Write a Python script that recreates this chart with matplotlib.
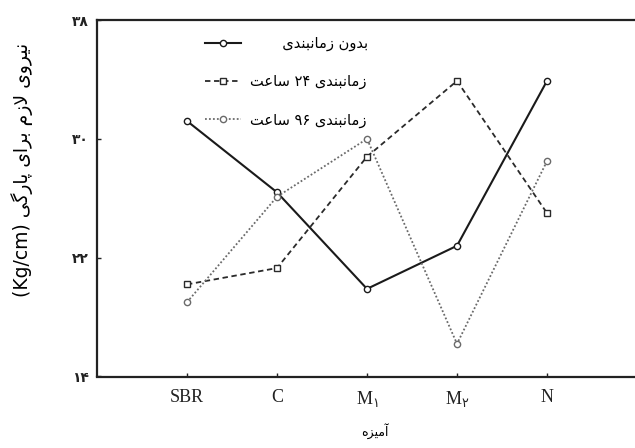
import numpy as np
import matplotlib
matplotlib.use("Agg")
import matplotlib.pyplot as plt

# ===== DATA =====
mixes = ["SBR", "C", "M1", "M2", "N"]
no_aging = [31.2, 26.4, 19.9, 22.8, 33.9]
aging_24h = [20.2, 21.3, 28.8, 33.9, 25.0]
aging_96h = [19.0, 26.1, 30.0, 16.2, 28.5]
y_ticks = [14, 22, 30, 38]

# ===== minimal Persian shaping (matplotlib draws LTR, no joining) =====
# char -> (isolated, final, initial, medial)
FORMS = {
    "ا": ("\uFE8D", "\uFE8E", None, None),
    "آ": ("\uFE81", "\uFE82", None, None),
    "ب": ("\uFE8F", "\uFE90", "\uFE91", "\uFE92"),
    "پ": ("\uFB56", "\uFB57", "\uFB58", "\uFB59"),
    "ت": ("\uFE95", "\uFE96", "\uFE97", "\uFE98"),
    "د": ("\uFEA9", "\uFEAA", None, None),
    "ر": ("\uFEAD", "\uFEAE", None, None),
    "ز": ("\uFEAF", "\uFEB0", None, None),
    "س": ("\uFEB1", "\uFEB2", "\uFEB3", "\uFEB4"),
    "ع": ("\uFEC9", "\uFECA", "\uFECB", "\uFECC"),
    "گ": ("\uFB92", "\uFB93", "\uFB94", "\uFB95"),
    "ل": ("\uFEDD", "\uFEDE", "\uFEDF", "\uFEE0"),
    "م": ("\uFEE1", "\uFEE2", "\uFEE3", "\uFEE4"),
    "ن": ("\uFEE5", "\uFEE6", "\uFEE7", "\uFEE8"),
    "ه": ("\uFEE9", "\uFEEA", "\uFEEB", "\uFEEC"),
    "و": ("\uFEED", "\uFEEE", None, None),
    "ی": ("\uFBFC", "\uFBFD", "\uFBFE", "\uFBFF"),
    "LA": ("\uFEFB", "\uFEFC", None, None),
}
FA_DIGITS = "۰۱۲۳۴۵۶۷۸۹"


def shape_word(w):
    if all(c in FA_DIGITS for c in w):
        return w
    toks = []
    i = 0
    while i < len(w):
        if w[i] == "ل" and i + 1 < len(w) and w[i + 1] == "ا":
            toks.append("LA"); i += 2
        else:
            toks.append(w[i]); i += 1
    out = []
    for k, c in enumerate(toks):
        if c not in FORMS:
            out.append(c); continue
        jp = k > 0 and toks[k - 1] in FORMS and FORMS[toks[k - 1]][2] is not None
        jn = FORMS[c][2] is not None and k + 1 < len(toks) and toks[k + 1] in FORMS
        f = FORMS[c]
        out.append(f[3] if jp and jn else f[1] if jp else f[2] if jn else f[0])
    return "".join(out[::-1])


def rtl(s):
    return " ".join(shape_word(w) for w in s.split(" ")[::-1])


def fa_num(n):
    return "".join(FA_DIGITS[int(d)] for d in str(n))


labels = [rtl("بدون زمانبندی"), rtl("زمانبندی ۲۴ ساعت"), rtl("زمانبندی ۹۶ ساعت")]
labels[0] = " " * 7 + labels[0]

plt.rcParams.update({"font.family": ["DejaVu Sans"],
                     "mathtext.fontset": "custom",
                     "mathtext.rm": "Liberation Serif",
                     "mathtext.sf": "DejaVu Sans"})

fig = plt.figure(figsize=(6.35, 4.48), dpi=100)
ax = fig.add_axes([97/635, 1 - 376.5/448, 540/635, 356.5/448])

x = np.arange(1, len(mixes) + 1)
ax.plot(x, no_aging, color="#1a1a1a", lw=1.5, ls="-", marker="o", ms=4.5,
        mfc="white", mec="#1a1a1a", mew=1.0, label=labels[0])
ax.plot(x, aging_24h, color="#2a2a2a", lw=1.3, ls=(0, (3, 2)), marker="s", ms=4.5,
        mfc="white", mec="#2a2a2a", mew=1.0, label=labels[1])
ax.plot(x, aging_96h, color="#6a6a6a", lw=1.3, ls=(0, (1, 1.2)), marker="o", ms=4.5,
        mfc="white", mec="#6a6a6a", mew=1.0, label=labels[2])

ax.set_xlim(0, 6)
ax.set_ylim(14, 38)
ax.set_yticks(y_ticks)
ax.set_yticklabels([fa_num(v) for v in y_ticks], fontsize=10, fontweight="bold")
ax.set_xticks(x)
xt = []
for m in mixes:
    if m.startswith("M"):
        xt.append(r"$\mathrm{M}_{\mathsf{" + fa_num(int(m[1:])) + "}}$")
    else:
        xt.append(m)
ax.set_xticklabels(xt, fontsize=13, family="Liberation Serif")
ax.tick_params(direction="in", length=3, width=1, pad=6, colors="#222")
ax.tick_params(axis="x", pad=9)
ax.spines["right"].set_visible(False)
for s in ["left", "top", "bottom"]:
    ax.spines[s].set_linewidth(1.6)
    ax.spines[s].set_color("#222")

ax.set_ylabel("(Kg/cm) " + rtl("نیروی لازم برای پارگی"), fontsize=13.5)
ax.yaxis.set_label_coords(-0.119, 0.58)
ax.set_xlabel(rtl("آمیزه"), fontsize=9)
ax.xaxis.set_label_coords(0.515, -0.13)

ax.legend(loc="upper left", bbox_to_anchor=(0.2, 0.955), frameon=False,
          fontsize=10.5, handlelength=2.5, handletextpad=0.6, labelspacing=1.57,
          borderpad=0, borderaxespad=0)

fig.savefig("out.png", dpi=100)
